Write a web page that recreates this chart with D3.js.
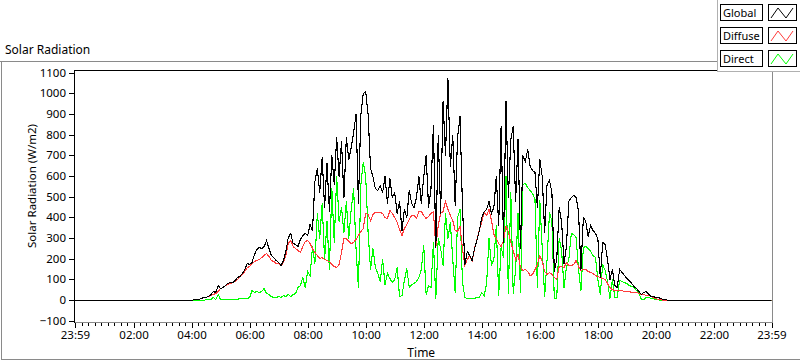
<!DOCTYPE html>
<html><head><meta charset="utf-8">
<script src="https://cdn.jsdelivr.net/npm/d3@7"></script>
<style>
body{margin:0;background:#fff}
svg{display:block}
text{font-family:"Noto Sans",Roboto,sans-serif;fill:#000}
</style>
</head><body>
<svg id="c" width="800" height="361"></svg>
<script>
// ---- data (W/m2), one value every 5 minutes starting 04:00 ----
const startMinute = 240;
const stepMinutes = 5;
const globalRad = [
0,2,4,6,9,12,15,20,26,45,38,70,
58,64,72,80,84,86,96,110,116,130,150,180,
175,185,220,245,255,249,262,290,250,217,205,195,
182,170,195,238,306,325,276,268,260,295,312,322,
315,368,340,575,640,520,690,450,660,430,700,560,
790,600,770,500,790,680,740,810,900,470,900,1000,
1010,900,640,600,540,530,556,520,600,470,588,500,
520,420,480,340,440,400,530,470,450,500,600,470,
600,700,450,540,846,255,800,420,960,700,1075,650,
800,460,790,890,460,175,234,215,195,250,290,340,
400,430,440,480,420,450,600,360,840,280,960,500,
780,840,480,780,250,700,670,730,650,630,620,450,
680,600,330,560,580,520,140,200,450,380,180,260,
480,500,505,500,430,150,400,380,310,360,340,322,
300,112,280,270,200,100,150,70,60,150,135,122,
108,95,82,68,55,42,30,38,45,28,20,18,
15,12,10,6,2,0,0,0,0];
const diffuseRad = [
0,2,4,6,9,12,15,20,24,30,35,45,
55,62,70,78,82,85,92,102,113,125,140,158,
165,180,186,193,200,209,217,225,210,195,188,180,
178,168,185,215,274,290,260,252,240,230,262,285,
290,274,250,230,215,203,206,200,192,186,175,166,
161,175,230,298,300,285,276,282,295,315,335,347,
420,415,385,415,425,427,427,420,400,395,435,420,
400,375,345,315,350,365,390,410,410,395,430,430,
410,395,405,420,430,255,360,420,430,480,440,410,
385,340,335,355,250,170,200,215,186,250,295,340,
380,425,410,440,385,320,298,275,260,290,355,335,
280,240,200,222,160,145,150,140,120,125,150,175,
217,190,140,125,135,125,110,100,165,165,160,182,
170,169,175,195,165,145,150,148,140,135,128,122,
115,110,105,100,80,60,52,48,48,47,46,45,
44,42,40,38,36,34,30,27,24,22,18,15,
10,6,3,1,0,0,0,0,0];
const directRad = [
0,0,0,0,0,0,2,3,5,12,6,30,
5,4,5,5,5,5,5,5,8,10,8,8,
12,50,40,45,38,42,55,35,30,20,15,12,
20,15,25,20,28,18,30,35,60,70,110,60,
140,120,260,180,420,300,470,200,380,150,540,280,
600,380,450,330,480,300,440,540,250,60,560,669,
600,330,150,250,160,130,90,200,75,130,105,85,
100,160,20,25,95,155,60,75,80,90,110,150,
266,30,70,60,280,10,298,250,169,420,300,379,
200,40,400,440,90,12,10,8,10,8,12,15,
38,24,80,300,169,200,363,24,257,209,600,32,
520,32,150,420,40,560,564,546,531,515,490,60,
483,250,20,200,427,380,10,10,300,240,60,161,
200,322,320,306,150,50,257,260,249,238,217,205,
100,30,172,145,90,10,100,14,15,97,92,86,
80,74,66,60,50,35,2,2,15,12,10,8,
4,2,0,0,0,0,0,0,0];
const seriesNames = ["Global","Diffuse","Direct"];
const seriesColors = ["#000000","#ff3b3b","#00ff00"];
const xTickMinutes = [-1,120,240,360,480,600,720,840,960,1080,1200,1320,1439];
const xTickLabels = ["23:59","02:00","04:00","06:00","08:00","10:00","12:00","14:00","16:00","18:00","20:00","22:00","23:59"];
const yTicks = [-100,0,100,200,300,400,500,600,700,800,900,1000,1100];
const chartTitle = "Solar Radiation";
const xTitle = "Time";
const yTitle = "Solar Radiation (W/m2)";

// ---- drawing ----
const svg = d3.select("#c");
const PL = 75, PR = 771.5, PT = 70, PB = 322;
const x = d3.scaleLinear().domain([-1, 1439]).range([75, 771.5]);
const y = d3.scaleLinear().domain([-100, 1100]).range([320.5, 72.5]);

svg.append("rect").attr("width",800).attr("height",361).attr("fill","#fff");

// outer frame
const frame = svg.append("g").attr("stroke","#8a8a8a").attr("fill","none").attr("shape-rendering","crispEdges");
frame.append("line").attr("x1",0).attr("x2",717).attr("y1",61.5).attr("y2",61.5);
frame.append("line").attr("x1",1.5).attr("x2",1.5).attr("y1",61).attr("y2",360);
frame.append("line").attr("x1",1).attr("x2",800).attr("y1",359.5).attr("y2",359.5);

svg.append("text").attr("x",5).attr("y",54).attr("font-size",12).text(chartTitle);

// clip
svg.append("clipPath").attr("id","pc").append("rect")
  .attr("x",PL).attr("y",PT).attr("width",PR-PL).attr("height",PB-PT);

function seriesData(arr){
  const pts = [{t:-1,v:0}];
  arr.forEach((v,i)=>pts.push({t:startMinute+i*stepMinutes, v}));
  pts.push({t:1439,v:0});
  return pts;
}
const line = d3.line().x(d=>x(d.t)).y(d=>Math.round(y(d.v))+0.5);
const allSeries = [globalRad, diffuseRad, directRad];
const gPlot = svg.append("g").attr("clip-path","url(#pc)");
[2,1,0].forEach(k=>{
  gPlot.append("path").datum(seriesData(allSeries[k]))
    .attr("d",line).attr("fill","none").attr("stroke",seriesColors[k])
    .attr("stroke-width",1.1).attr("shape-rendering","crispEdges");
});

// plot border (3D inset look)
const pb = svg.append("g").attr("shape-rendering","crispEdges").attr("fill","none");
pb.append("line").attr("x1",PL-0.5).attr("x2",717).attr("y1",PT+0.5).attr("y2",PT+0.5).attr("stroke","#000");
pb.append("line").attr("x1",PL-0.5).attr("x2",PL-0.5).attr("y1",PT).attr("y2",PB+1).attr("stroke","#000");
pb.append("line").attr("x1",PL-0.5).attr("x2",PR+0.5).attr("y1",PB+0.5).attr("y2",PB+0.5).attr("stroke","#8a8a8a");
pb.append("line").attr("x1",PR+0.5).attr("x2",PR+0.5).attr("y1",72).attr("y2",PB+1).attr("stroke","#8a8a8a");

// y axis
const yAxis = svg.append("g").attr("transform",`translate(${PL-1},0)`)
  .call(d3.axisLeft(y).tickValues(yTicks).tickSize(5).tickPadding(3).tickFormat(d3.format("d")));
yAxis.select(".domain").remove();
yAxis.selectAll("line").attr("stroke","#000").attr("shape-rendering","crispEdges");
yAxis.selectAll("text").attr("font-size",11.5).attr("font-family",null);

// x axis major
const xAxis = svg.append("g").attr("transform",`translate(0,${PB+1})`)
  .call(d3.axisBottom(x).tickValues(xTickMinutes).tickSize(5).tickPadding(3)
    .tickFormat((d,i)=>xTickLabels[i]));
xAxis.select(".domain").remove();
xAxis.selectAll("line").attr("stroke","#000").attr("shape-rendering","crispEdges");
xAxis.selectAll("text").attr("font-size",11.5).attr("font-family",null);
// x axis minor (8 between majors)
const minor = [];
for(let i=0;i<xTickMinutes.length-1;i++){
  const a=xTickMinutes[i], b=xTickMinutes[i+1];
  for(let j=1;j<9;j++) minor.push(a+(b-a)*j/9);
}
const xMinor = svg.append("g").attr("transform",`translate(0,${PB+1})`)
  .call(d3.axisBottom(x).tickValues(minor).tickSize(3).tickFormat(""));
xMinor.select(".domain").remove();
xMinor.selectAll("line").attr("stroke","#000").attr("shape-rendering","crispEdges");

svg.append("text").attr("x",(PL+PR)/2-2).attr("y",357).attr("text-anchor","middle")
  .attr("font-size",12).text(xTitle);
svg.append("text").attr("transform","translate(36,186) rotate(-90)").attr("text-anchor","middle")
  .attr("font-size",11.5).text(yTitle);

// legend
const lg = svg.append("g");
lg.append("rect").attr("x",717.5).attr("y",-1).attr("width",90).attr("height",72.5)
  .attr("fill","#fff").attr("stroke","#b0b0b0").attr("shape-rendering","crispEdges");
seriesNames.forEach((name,k)=>{
  const yy = 4 + 23*k;
  lg.append("rect").attr("x",720.5).attr("y",yy+0.5).attr("width",42).attr("height",16)
    .attr("fill","#fff").attr("stroke","#000").attr("shape-rendering","crispEdges");
  lg.append("text").attr("x",723).attr("y",yy+13).attr("font-size",11).text(name);
  lg.append("rect").attr("x",768.5).attr("y",yy+0.5).attr("width",28).attr("height",16)
    .attr("fill","#fff").attr("stroke","#000").attr("shape-rendering","crispEdges");
  const zz = [[771,yy+14],[778,yy+4],[786,yy+14],[793,yy+4]];
  lg.append("path").attr("d",d3.line()(zz)).attr("fill","none").attr("stroke",seriesColors[k]);
});
</script>
</body></html>
